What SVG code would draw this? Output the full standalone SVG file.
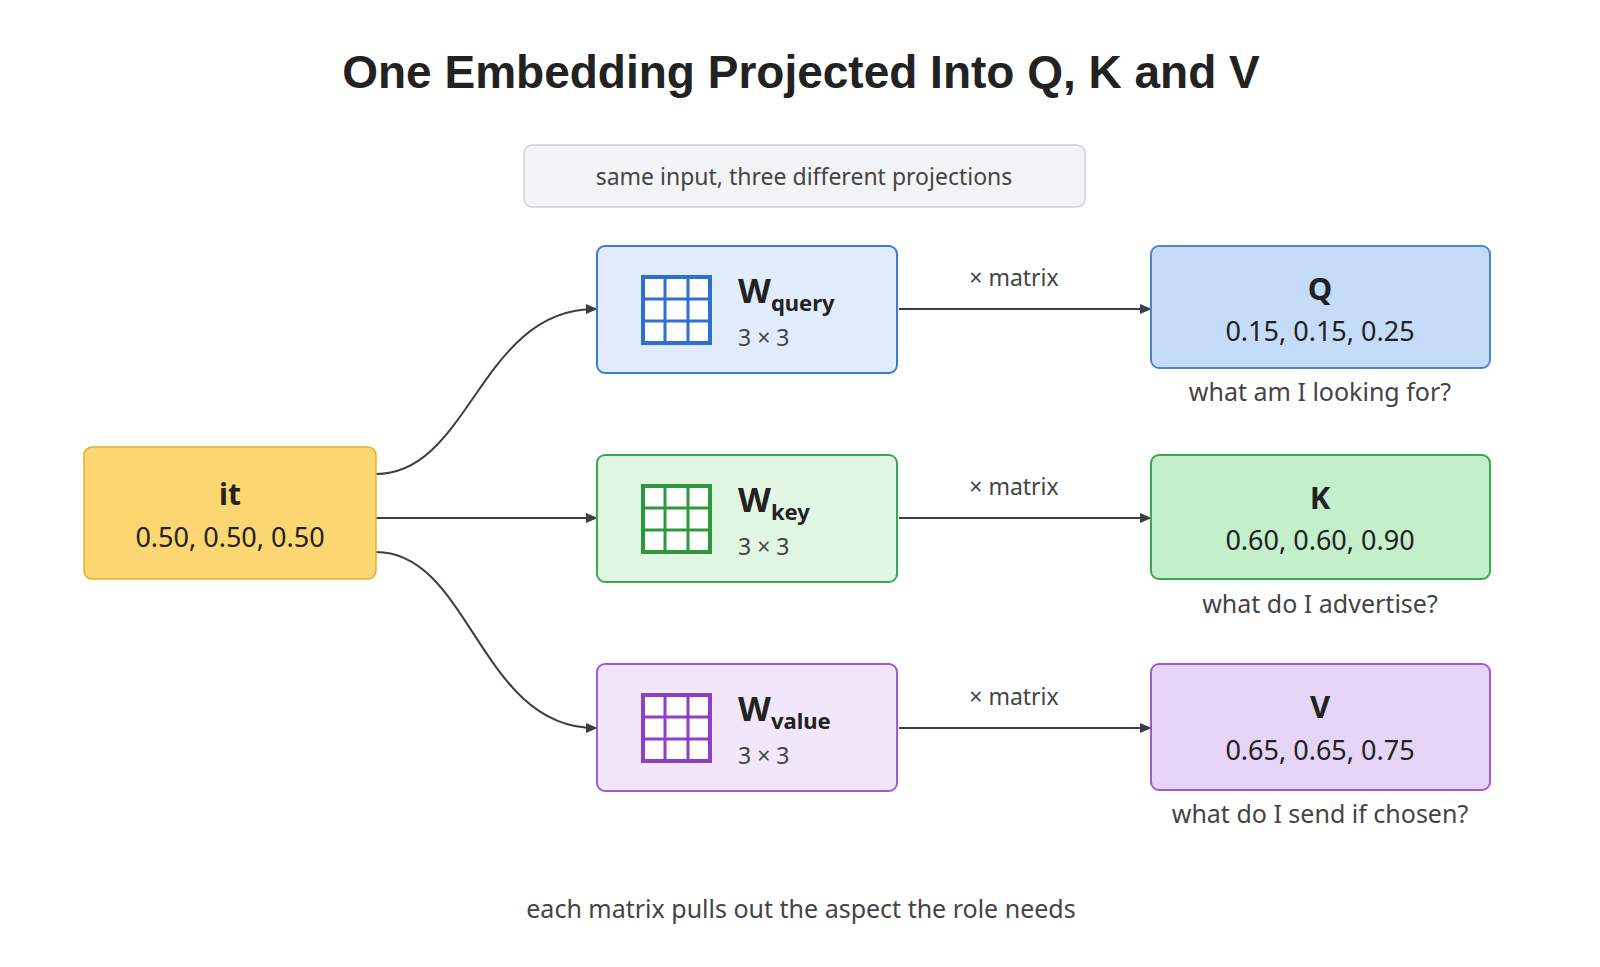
<svg xmlns="http://www.w3.org/2000/svg" width="1600" height="967" viewBox="0 0 1600 967">
<defs>
<marker id="ah" markerWidth="10" markerHeight="10" refX="9" refY="5" orient="auto" markerUnits="userSpaceOnUse"><path d="M0,0 L12,5 L0,10 z" fill="#3a3f47"/></marker>
<style>
.t{font-family:"Noto Sans","Open Sans",sans-serif;fill:#222}
.s{font-family:"Noto Sans","Open Sans",sans-serif;fill:#444}
.c{fill:none;stroke:#3a3f47;stroke-width:2}
.g{fill:#fff;stroke-width:4}
</style>
</defs>
<rect width="1600" height="967" fill="#fff"/>
<text x="801" y="88" text-anchor="middle" font-family="Liberation Sans,Arial,sans-serif" font-weight="bold" font-size="46" fill="#222">One Embedding Projected Into Q, K and V</text>
<g id="subtitle"><rect x="524" y="145" width="561" height="62" rx="8" fill="#f3f4f6" stroke="#d0d3d8" stroke-width="1.5"/><text class="s" x="804" y="185" text-anchor="middle" font-size="23">same input, three different projections</text></g>
<g id="connectors">
<path class="c" d="M376,474 C470,474 480,309 595,309" marker-end="url(#ah)"/>
<path class="c" d="M376,518 L595,518" marker-end="url(#ah)"/>
<path class="c" d="M376,552 C470,552 480,728 595,728" marker-end="url(#ah)"/>
<path class="c" d="M899,309 L1149,309" marker-end="url(#ah)"/>
<path class="c" d="M899,518 L1149,518" marker-end="url(#ah)"/>
<path class="c" d="M899,728 L1149,728" marker-end="url(#ah)"/>
<text class="s" x="1014" y="286" text-anchor="middle" font-size="23">× matrix</text>
<text class="s" x="1014" y="495" text-anchor="middle" font-size="23">× matrix</text>
<text class="s" x="1014" y="705" text-anchor="middle" font-size="23">× matrix</text>
</g>
<g id="it"><rect x="84" y="447" width="292" height="132" rx="8" fill="#fcd671" stroke="#e2b12e" stroke-width="1.5"/><text class="t" x="230" y="505" text-anchor="middle" font-size="30" font-weight="bold">it</text><text class="t" x="230" y="547" text-anchor="middle" font-size="27">0.50, 0.50, 0.50</text></g>
<g id="wq"><rect x="597" y="246" width="300" height="127" rx="8" fill="#e0ecfb" stroke="#3a7bd5" stroke-width="2"/><g stroke="#2f6fd0"><rect class="g" x="643" y="277" width="67" height="66"/><path stroke-width="3" d="M665,277V343M688,277V343M643,299H710M643,321H710"/></g><text class="t" x="738" y="303" font-size="34" font-weight="bold">W<tspan font-size="22" dy="8">query</tspan></text><text class="s" x="738" y="346" font-size="23">3 × 3</text></g>
<g id="wk"><rect x="597" y="455" width="300" height="127" rx="8" fill="#e2f6e4" stroke="#3aa84c" stroke-width="2"/><g stroke="#2a9a3c"><rect class="g" x="643" y="486" width="67" height="66"/><path stroke-width="3" d="M665,486V552M688,486V552M643,508H710M643,530H710"/></g><text class="t" x="738" y="512" font-size="34" font-weight="bold">W<tspan font-size="22" dy="8">key</tspan></text><text class="s" x="738" y="555" font-size="23">3 × 3</text></g>
<g id="wv"><rect x="597" y="664" width="300" height="127" rx="8" fill="#f1e6fa" stroke="#a35ad0" stroke-width="2"/><g stroke="#8e3fc4"><rect class="g" x="643" y="695" width="67" height="66"/><path stroke-width="3" d="M665,695V761M688,695V761M643,717H710M643,739H710"/></g><text class="t" x="738" y="721" font-size="34" font-weight="bold">W<tspan font-size="22" dy="8">value</tspan></text><text class="s" x="738" y="764" font-size="23">3 × 3</text></g>
<g id="q"><rect x="1151" y="246" width="339" height="122" rx="8" fill="#c5dcf8" stroke="#4a86d0" stroke-width="2"/><text class="t" x="1320" y="300" text-anchor="middle" font-size="31" font-weight="bold">Q</text><text class="t" x="1320" y="341" text-anchor="middle" font-size="27">0.15, 0.15, 0.25</text><text class="s" x="1320" y="401" text-anchor="middle" font-size="25">what am I looking for?</text></g>
<g id="k"><rect x="1151" y="455" width="339" height="124" rx="8" fill="#c4efcb" stroke="#3aa84c" stroke-width="2"/><text class="t" x="1320" y="509" text-anchor="middle" font-size="31" font-weight="bold">K</text><text class="t" x="1320" y="550" text-anchor="middle" font-size="27">0.60, 0.60, 0.90</text><text class="s" x="1320" y="613" text-anchor="middle" font-size="25">what do I advertise?</text></g>
<g id="v"><rect x="1151" y="664" width="339" height="126" rx="8" fill="#e6d4f6" stroke="#a35ad0" stroke-width="2"/><text class="t" x="1320" y="718" text-anchor="middle" font-size="31" font-weight="bold">V</text><text class="t" x="1320" y="760" text-anchor="middle" font-size="27">0.65, 0.65, 0.75</text><text class="s" x="1320" y="823" text-anchor="middle" font-size="25">what do I send if chosen?</text></g>
<text class="s" x="801" y="918" text-anchor="middle" font-size="25">each matrix pulls out the aspect the role needs</text>
</svg>
